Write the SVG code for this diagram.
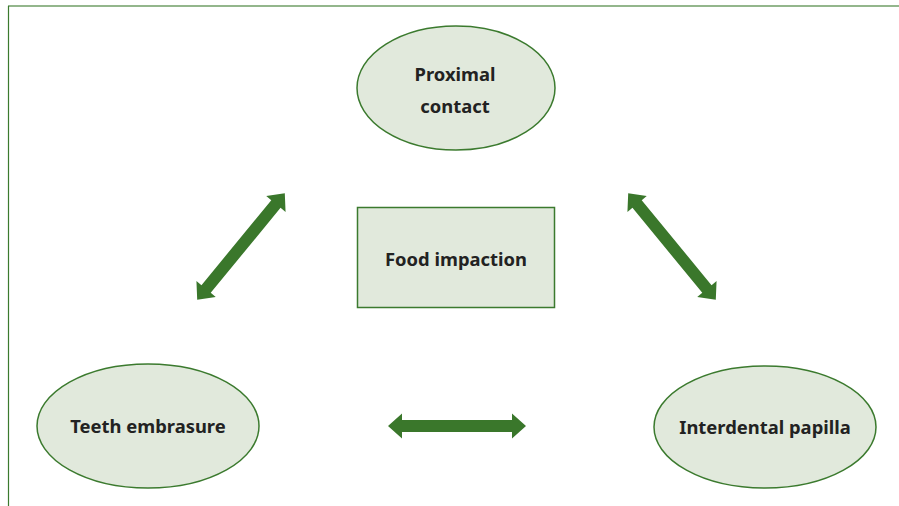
<svg xmlns="http://www.w3.org/2000/svg" width="899" height="506" viewBox="0 0 899 506">
<style>
.node{fill:#e1e9dc;stroke:#3b7a2e;stroke-width:1.5}
.lbl{font-family:"Source Sans Pro","Noto Sans","Open Sans",sans-serif;font-weight:bold;font-size:18.4px;fill:#222;text-anchor:middle}
.arr{fill:#3a772b}
</style>
<defs>
<polygon id="dbl" points="-69,0 -55,-12.5 -55,-6 55,-6 55,-12.5 69,0 55,12.5 55,6 -55,6 -55,12.5"/>
</defs>
<rect width="899" height="506" fill="#fff"/>
<g id="frame" fill="none">
<line x1="8" y1="6" x2="899" y2="6" stroke="#6f9e66" stroke-width="1.5"/>
<line x1="8.5" y1="6" x2="8.5" y2="506" stroke="#3b7a2e" stroke-width="1.2"/>
</g>
<g id="connectors" class="arr">
<use href="#dbl" transform="translate(241,246.5) rotate(-50.6)"/>
<use href="#dbl" transform="translate(672,246.5) rotate(50.6)"/>
<use href="#dbl" transform="translate(457,426)"/>
</g>
<g id="proximal">
<ellipse class="node" cx="456" cy="88" rx="99" ry="62"/>
<text class="lbl" x="455" y="81">Proximal</text>
<text class="lbl" x="455" y="113">contact</text>
</g>
<g id="food">
<rect class="node" x="357.5" y="207.5" width="197" height="100"/>
<text class="lbl" x="456" y="266">Food impaction</text>
</g>
<g id="teeth">
<ellipse class="node" cx="148" cy="426" rx="111" ry="62"/>
<text class="lbl" x="148" y="433">Teeth embrasure</text>
</g>
<g id="papilla">
<ellipse class="node" cx="765" cy="427" rx="111" ry="61"/>
<text class="lbl" x="765" y="434">Interdental papilla</text>
</g>
</svg>
